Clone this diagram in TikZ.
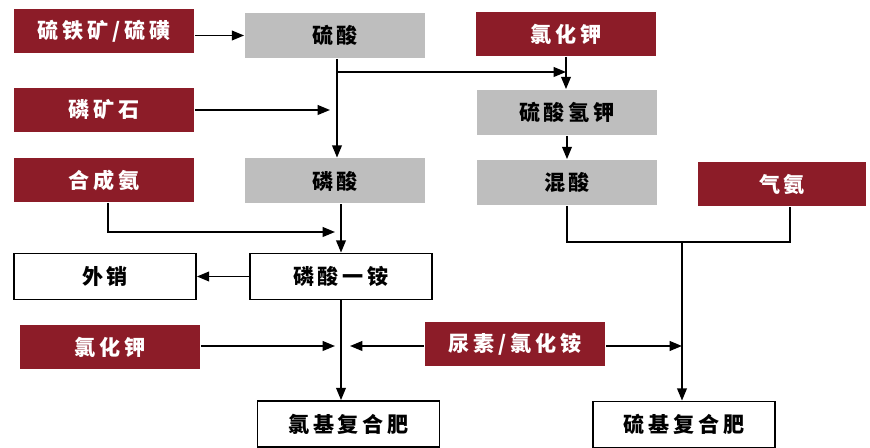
\documentclass[tikz,border=0pt]{standalone}
\usepackage{fontspec}
\newfontfamily\cjk[LetterSpace=18]{Noto Sans CJK SC}
\usetikzlibrary{arrows.meta}

\definecolor{boxred}{RGB}{140,28,40}
\definecolor{boxgray}{RGB}{190,190,190}

\tikzset{
  redbox/.style={fill=boxred, text=white, minimum width=3.6cm, minimum height=0.88cm},
  graybox/.style={fill=boxgray, text=black, minimum width=3.6cm, minimum height=0.9cm},
  whitebox/.style={draw=black, fill=white, line width=1pt, minimum width=3.64cm, minimum height=0.92cm},
}

\begin{document}
\begin{tikzpicture}[line width=1pt, >={Triangle[length=7pt,width=5.5pt]}, font=\cjk\bfseries\fontsize{12pt}{14pt}\selectfont]

\useasboundingbox  (0,0)  rectangle  (17.4,-8.96);

\node [redbox] (pyrite) at (2.08,-0.62) {硫铁矿/硫磺};
\node [redbox] (rock) at (2.08,-2.2) {磷矿石};
\node [redbox] (synnh3) at (2.08,-3.6) {合成氨};
\node [graybox] (h2so4) at (6.7,-0.71) {硫酸};
\node [graybox] (h3po4) at (6.7,-3.62) {磷酸};
\node [redbox] (kcltop) at (11.32,-0.68) {氯化钾};
\node [graybox] (khso4) at (11.34,-2.25) {硫酸氢钾};
\node [graybox] (mixacid) at (11.34,-3.65) {混酸};
\node [redbox, minimum width=3.36cm] (gasnh3) at (15.64,-3.69) {气氨};

\node [whitebox] (export) at (2.1,-5.53) {外销};
\node [whitebox] (map) at (6.82,-5.53) {磷酸一铵};
\node [redbox] (kclbot) at (2.2,-6.95) {氯化钾};
\node [redbox] (urea) at (10.3,-6.89) {尿素/氯化铵};
\node [whitebox] (clnpk) at (6.97,-8.48) {氯基复合肥};
\node [whitebox] (snpk) at (13.68,-8.49) {硫基复合肥};

\coordinate (split) at (6.74,-1.44);
\coordinate (rockin) at (6.6,-2.2);
\coordinate (nh3in) at (6.7,-4.64);
\coordinate (kclin) at (6.7,-6.92);
\coordinate (ureain) at (7.0,-6.92);
\coordinate (ureaout) at (13.64,-6.92);
\coordinate (merge) at (13.64,-4.84);

\draw[->]  (h2so4.west -| pyrite.east)  --  (h2so4.west);
\draw[->]  (h2so4.south -| split)  --  (h3po4.north -| split);
\draw[->]  (split)  --  (split -| kcltop.south);
\draw[->]  (kcltop.south)  --  (kcltop.south |- khso4.north);
\draw[->]  (khso4.south)  --  (mixacid.north);
\draw[->]  (rock.east)  --  (rockin);
\draw[->]  ([xshift=0.08cm]synnh3.south)  |-  (nh3in);

\draw[->]  (h3po4.south -| map.north)  --  (map.north);
\draw[->]  (map.west)  --  (export.east);
\draw[->]  (map.south)  --  (map.south |- clnpk.north);
\draw[->]  (kclin -| kclbot.east)  --  (kclin);
\draw[->]  (ureain -| urea.west)  --  (ureain);
\draw[->]  (ureaout -| urea.east)  --  (ureaout);

\draw  (mixacid.south)  |-  (merge)  -|  ([xshift=0.16cm]gasnh3.south);
\draw[->]  (merge)  --  (merge |- snpk.north);

\end{tikzpicture}
\end{document}
